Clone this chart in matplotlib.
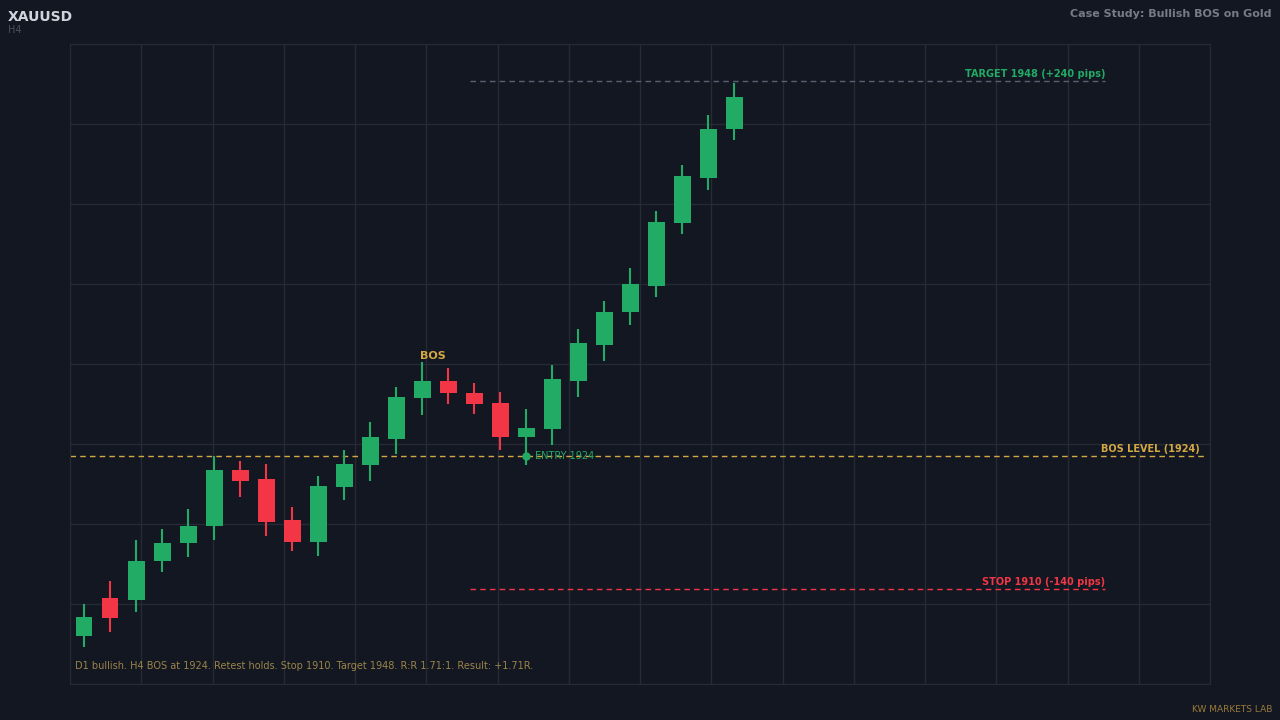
import matplotlib
matplotlib.use("Agg")
import matplotlib.pyplot as plt
import numpy as np

# Candles (H4 XAUUSD)
opens = [1912.5, 1914.9, 1914.8, 1917.3, 1918.4, 1919.5, 1923.1, 1922.5, 1919.9, 1918.5,
         1922.0, 1923.4, 1925.1, 1927.7, 1928.8, 1928.0, 1927.4, 1925.2, 1925.7, 1928.8,
         1931.1, 1933.2, 1934.9, 1938.9, 1941.8, 1944.9]
closes = [1913.7, 1913.6, 1917.3, 1918.4, 1919.5, 1923.1, 1922.4, 1919.8, 1918.5, 1922.1,
          1923.5, 1925.2, 1927.8, 1928.8, 1928.0, 1927.3, 1925.2, 1925.8, 1928.9, 1931.2,
          1933.2, 1935.0, 1939.0, 1941.9, 1944.9, 1947.0]
highs = [1914.5, 1916.0, 1918.6, 1919.3, 1920.6, 1924.0, 1923.7, 1923.5, 1920.7, 1922.7,
         1924.4, 1926.2, 1928.4, 1930.0, 1929.6, 1928.7, 1928.1, 1927.0, 1929.8, 1932.1,
         1933.9, 1936.0, 1939.7, 1942.6, 1945.8, 1947.9]
lows = [1911.8, 1912.7, 1914.0, 1916.6, 1917.5, 1918.6, 1921.4, 1918.9, 1917.9, 1917.6,
        1921.2, 1922.4, 1924.1, 1926.6, 1927.3, 1926.7, 1924.4, 1923.4, 1924.7, 1927.8,
        1930.1, 1932.4, 1934.2, 1938.2, 1941.0, 1944.2]

bos_level = 1924.0
entry_idx, entry_price = 17, 1924.0
target_level = 1948.0
stop_level = 1915.5   # drawn position of the stop line
bos_idx, bos_label_y = 13.4, 1930.4

BG = "#131722"
GREEN = "#22ab64"
RED = "#f23645"
GOLD = "#d4a843"
GRID = "#262a35"

fig = plt.figure(figsize=(12.8, 7.2), dpi=100, facecolor=BG)
ax = fig.add_axes([70/1280, 36/720, 1140/1280, 640/720], facecolor=BG)

x0, x1 = -0.54, 43.3
y0, y1 = 1909.4, 1950.37
ax.set_xlim(x0, x1)
ax.set_ylim(y0, y1)
ax.set_xticks(np.linspace(x0, x1, 17))
ax.set_yticks(np.linspace(y0, y1, 9))
ax.grid(True, color=GRID, lw=1)
ax.tick_params(length=0, labelbottom=False, labelleft=False)
for s in ax.spines.values():
    s.set_color(GRID)

for i, (o, c, h, l) in enumerate(zip(opens, closes, highs, lows)):
    col = GREEN if c >= o else RED
    ax.vlines(i, l, h, color=col, lw=1.5, zorder=3)
    ax.bar(i, abs(c - o), bottom=min(o, c), width=0.65, color=col, zorder=4)

# levels
ax.axhline(bos_level, xmin=0, xmax=0.995, color=GOLD, ls=(0, (4, 3)), lw=1, zorder=2)
ax.text(42.9, bos_level + 0.15, "BOS LEVEL (1924)", color=GOLD, fontsize=7,
        fontweight="bold", ha="right", va="bottom")
ax.hlines(target_level, 14.85, 39.27, color="#5a6070", ls=(0, (4, 3)), lw=1, zorder=2)
ax.text(39.27, target_level + 0.1, "TARGET 1948 (+240 pips)", color=GREEN, fontsize=7,
        fontweight="bold", ha="right", va="bottom")
ax.hlines(stop_level, 14.85, 39.27, color=RED, ls=(0, (4, 3)), lw=1, zorder=2)
ax.text(39.27, stop_level + 0.1, "STOP 1910 (-140 pips)", color=RED, fontsize=7,
        fontweight="bold", ha="right", va="bottom")

ax.plot(entry_idx, entry_price, "o", color=GREEN, ms=5, zorder=5)
ax.text(entry_idx + 0.35, entry_price, "ENTRY 1924", color=GREEN, fontsize=7,
        ha="left", va="center")
ax.text(bos_idx, bos_label_y, "BOS", color=GOLD, fontsize=8, fontweight="bold",
        ha="center", va="center")

ax.text(0.004, 0.02, "D1 bullish. H4 BOS at 1924. Retest holds. Stop 1910. Target 1948. R:R 1.71:1. Result: +1.71R.",
        transform=ax.transAxes, color="#9a8448", fontsize=7, ha="left", va="bottom")

fig.text(8/1280, 1 - 17/720, "XAUUSD", color="#d1d4dc", fontsize=10, fontweight="bold",
         ha="left", va="center")
fig.text(8/1280, 1 - 30/720, "H4", color="#4a4f5c", fontsize=7, ha="left", va="center")
fig.text(1272/1280, 1 - 14/720, "Case Study: Bullish BOS on Gold", color="#787b86",
         fontsize=8, fontweight="bold", ha="right", va="center")
fig.text(1272/1280, 1 - 714/720, "KW MARKETS LAB", color="#9a7a3a", fontsize=6.5,
         ha="right", va="bottom")

fig.savefig("out.png", dpi=100, facecolor=BG)
